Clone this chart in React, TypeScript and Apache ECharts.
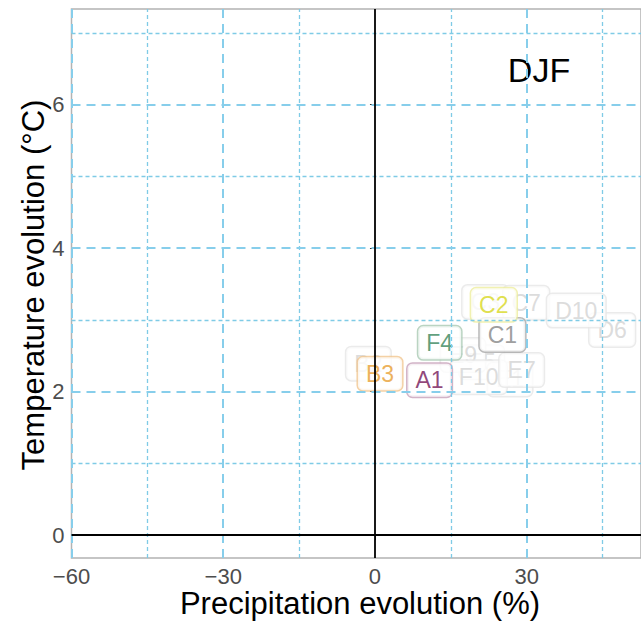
import React, { useEffect, useRef } from "react";
import * as echarts from "echarts";

// Highlighted regions (coloured labels)
const mainNames = ["B3", "A1", "F4", "C1", "C2"];
const mainX = [1.0, 10.8, 12.8, 25.2, 23.5];
const mainY = [2.25, 2.16, 2.68, 2.79, 3.21];
const mainText = ["#E89E30", "#741557", "#36865A", "#858585", "#D8D81E"];
const mainBorder = ["#F1C58E", "#C7A0B9", "#A9C9B3", "#A9A9A9", "#EDED9E"];

// Other regions (faded labels), drawn in this order
const fadedNames = ["B2", "E5", "E9", "C3", "E1", "F10", "E7", "D6", "C7", "D10"];
const fadedX = [-1.3, 21.1, 17.4, 21.8, 26.7, 20.5, 29.0, 46.9, 29.9, 39.8];
const fadedY = [2.39, 2.41, 2.51, 3.25, 2.17, 2.2, 2.3, 2.86, 3.24, 3.13];

const xTicks = [-60, -30, 0, 30];
const xMinor = [-45, -15, 15, 45];
const yTicks = [0, 2, 4, 6];
const yMinor = [1, 3, 5, 7];

const X_MIN = -60;
const X_MAX = 52.6;
const Y_MIN = -0.32;
const Y_MAX = 7.335;

const FONT = "Liberation Sans, Arial, Helvetica, sans-serif";

export default function App() {
  const ref = useRef<HTMLDivElement>(null);

  useEffect(() => {
    if (!ref.current) return;
    const chart = echarts.init(ref.current, undefined, { renderer: "svg" });

    const major = { color: "#87CEEB", width: 2, type: [9, 6] as any };
    const minor = { color: "#7FCBE6", width: 1.3, type: [4, 3] as any };
    const zero = { color: "#000000", width: 1.8, type: "solid" as any };

    const gridLines: any[] = [];
    xMinor.forEach((v) => gridLines.push({ xAxis: v, lineStyle: minor }));
    yMinor.forEach((v) => gridLines.push({ yAxis: v, lineStyle: minor }));
    xTicks.filter((v) => v !== 0).forEach((v) => gridLines.push({ xAxis: v, lineStyle: major }));
    yTicks.filter((v) => v !== 0).forEach((v) => gridLines.push({ yAxis: v, lineStyle: major }));
    gridLines.push({ xAxis: 0, lineStyle: zero });
    gridLines.push({ yAxis: 0, lineStyle: zero });

    const labelBase = {
      show: true,
      position: "inside",
      formatter: "{b}",
      fontSize: 23,
      fontFamily: FONT,
      backgroundColor: "#ffffff",
      borderRadius: 5,
      borderWidth: 1.5,
      padding: [6, 8, 4, 8],
    };

    const fadedData = fadedNames.map((n, i) => ({
      name: n,
      value: [fadedX[i], fadedY[i]],
      label: { color: "#D3D3D3", borderColor: "#E6E6E6" },
    }));
    const mainData = mainNames.map((n, i) => ({
      name: n,
      value: [mainX[i], mainY[i]],
      label: { color: mainText[i], borderColor: mainBorder[i] },
    }));

    const fmt = (v: number) => (v < 0 ? "\u2212" + Math.abs(v) : String(v));

    chart.setOption({
      animation: false,
      backgroundColor: "#ffffff",
      grid: {
        left: 71.5,
        right: 0,
        top: 9,
        bottom: 63,
        show: true,
        borderColor: "#B3B3B3",
        borderWidth: 1.5,
        backgroundColor: "#ffffff",
      },
      xAxis: {
        type: "value",
        min: X_MIN,
        max: X_MAX,
        splitLine: { show: false },
        axisLine: { show: false },
        axisTick: {
          show: true,
          customValues: xTicks,
          length: 5,
          lineStyle: { color: "#333333", width: 1 },
        },
        axisLabel: {
          customValues: xTicks,
          formatter: fmt,
          color: "#4D4D4D",
          fontSize: 22,
          fontFamily: FONT,
          margin: 7,
        },
      },
      yAxis: {
        type: "value",
        min: Y_MIN,
        max: Y_MAX,
        splitLine: { show: false },
        axisLine: { show: false },
        axisTick: {
          show: true,
          customValues: yTicks,
          length: 5,
          lineStyle: { color: "#333333", width: 1 },
        },
        axisLabel: {
          customValues: yTicks,
          formatter: fmt,
          color: "#4D4D4D",
          fontSize: 22,
          fontFamily: FONT,
          margin: 7,
        },
      },
      series: [
        {
          type: "scatter",
          z: 1,
          silent: true,
          symbolSize: 0,
          data: [[0, 0]],
          itemStyle: { color: "transparent" },
          markLine: {
            silent: true,
            symbol: ["none", "none"],
            label: { show: false },
            data: gridLines,
          },
        },
        {
          type: "scatter",
          z: 3,
          symbolSize: 1,
          itemStyle: { color: "transparent" },
          label: labelBase,
          data: fadedData,
        },
        {
          type: "scatter",
          z: 4,
          symbolSize: 1,
          itemStyle: { color: "transparent" },
          label: labelBase,
          data: mainData,
        },
      ],
      graphic: [
        {
          type: "text",
          x: 360,
          y: 603,
          style: {
            text: "Precipitation evolution (%)",
            font: `31px ${FONT}`,
            fill: "#000000",
            align: "center",
            verticalAlign: "middle",
          },
        },
        {
          type: "text",
          x: 33,
          y: 285,
          rotation: Math.PI / 2,
          style: {
            text: "Temperature evolution (\u00B0C)",
            font: `31px ${FONT}`,
            fill: "#000000",
            align: "center",
            verticalAlign: "middle",
          },
        },
        {
          type: "text",
          x: 539,
          y: 70,
          style: {
            text: "DJF",
            font: `34px ${FONT}`,
            fill: "#000000",
            align: "center",
            verticalAlign: "middle",
          },
        },
      ],
    });

    return () => chart.dispose();
  }, []);

  return (
    <div
      ref={ref}
      style={{ width: 641, height: 621, position: "absolute", left: 0, top: 0 }}
    />
  );
}
